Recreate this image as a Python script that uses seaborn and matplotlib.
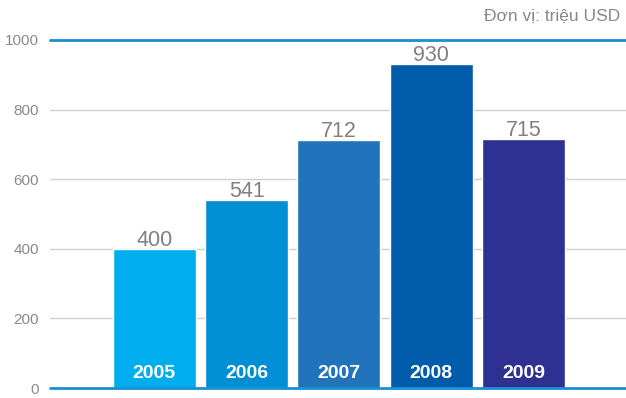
import matplotlib
matplotlib.use("Agg")
import matplotlib.pyplot as plt
import seaborn as sns
import pandas as pd

# Annual values, millions of USD
years = ["2005", "2006", "2007", "2008", "2009"]
values = [400, 541, 712, 930, 715]
bar_colors = ["#00aeef", "#008fd5", "#2174bb", "#005baa", "#2e3192"]
y_ticks = [0, 200, 400, 600, 800, 1000]
unit_label = "Đơn vị: triệu USD"

df = pd.DataFrame({"year": years, "value": values})

sns.set_theme(style="white")
plt.rcParams["font.family"] = ["Liberation Sans", "DejaVu Sans"]

fig = plt.figure(figsize=(6.26, 3.98), dpi=100)
ax = fig.add_axes([50 / 626, 10 / 398, 576 / 626, 348 / 398])

sns.barplot(data=df, x="year", y="value", hue="year", palette=bar_colors,
            width=0.9, legend=False, ax=ax, saturation=1, zorder=3)

ax.set_ylim(0, 1000)
ax.set_xlim(-1.13, 5.11)
ax.set_yticks(y_ticks)
ax.set_yticklabels([str(t) for t in y_ticks], color="#8a8a8a", fontsize=11)
ax.tick_params(axis="y", length=0, pad=8)
ax.set_xticks([])
ax.set_xlabel("")
ax.set_ylabel("")

for t in y_ticks[1:-1]:
    ax.axhline(t, color="#d0d0d0", lw=1, zorder=1)
ax.axhline(1000, color="#1a8fd3", lw=2, zorder=4, clip_on=False)
ax.axhline(0, color="#1a8fd3", lw=2, zorder=4, clip_on=False)

for s in ax.spines.values():
    s.set_visible(False)

for i, (yr, v) in enumerate(zip(years, values)):
    ax.text(i, v + 9, str(v), ha="center", va="baseline", color="#808080",
            fontsize=15.5)
    ax.text(i, 29, yr, ha="center", va="baseline", color="white",
            fontsize=14, fontweight="bold")

fig.text(620 / 626, 1 - 16 / 398, unit_label, ha="right", va="center",
         color="#888888", fontsize=12.5)

fig.savefig("out.png", dpi=100)
